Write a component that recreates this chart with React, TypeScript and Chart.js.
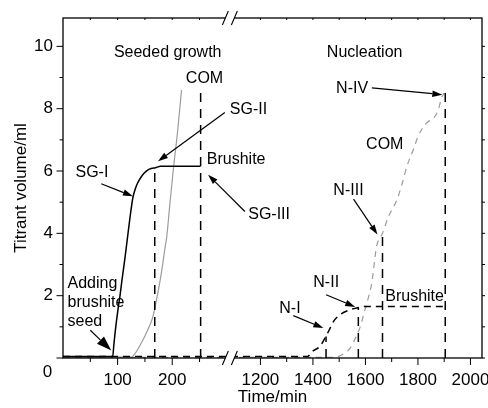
import React, { useEffect, useRef } from 'react';
import { Chart, registerables } from 'chart.js';

Chart.register(...registerables);

// ---- Data (time in minutes, titrant volume in ml) ----
const sgBrushiteTime = [0, 91, 93, 95, 98, 101, 104, 108, 113, 118, 123, 128, 131, 135, 140, 146, 152, 158, 164, 168, 172, 178, 252];
const sgBrushiteVol = [0.05, 0.05, 0.4, 0.75, 1.2, 1.6, 1.95, 2.5, 3.15, 3.85, 4.55, 5.15, 5.35, 5.55, 5.72, 5.88, 5.99, 6.06, 6.09, 6.1, 6.12, 6.15, 6.15];

const sgComTime = [0, 125, 132, 140, 147, 153, 159, 165, 171, 177, 182, 186, 190, 196, 202, 210, 217];
const sgComVol = [0.03, 0.03, 0.15, 0.37, 0.6, 0.82, 1.05, 1.35, 1.85, 2.4, 2.95, 3.45, 3.9, 5.0, 6.05, 7.3, 8.6];

const nBrushiteTime = [0, 1380, 1396, 1427, 1450, 1465, 1478, 1503, 1542, 1573, 1590, 1904];
const nBrushiteVol = [0.05, 0.05, 0.2, 0.38, 0.7, 0.95, 1.17, 1.39, 1.55, 1.62, 1.65, 1.65];

const nComTime = [0, 1480, 1500, 1520, 1542, 1560, 1580, 1595, 1610, 1624, 1643, 1663, 1688, 1720, 1740, 1758, 1783, 1800, 1828, 1845, 1862, 1878, 1890, 1900];
const nComVol = [0.02, 0.02, 0.06, 0.15, 0.32, 0.6, 1.0, 1.45, 1.9, 2.4, 3.6, 3.96, 4.54, 5.08, 5.6, 6.15, 6.7, 7.1, 7.5, 7.62, 7.72, 7.97, 8.35, 8.5];

// vertical dashed marker lines (SG-II, COM end, N-I, N-II, N-III, N-IV)
const markerTimes = [168, 252, 1450, 1573, 1665, 1904];
const markerTops = [6.1, 8.5, 0.69, 1.62, 3.96, 8.7];

const xMajorTicks = [100, 200, 1200, 1400, 1600, 1800, 2000];
const xMinorTicks = [50, 150, 250, 1300, 1500, 1700, 1900];
const yLabelTicks = [2, 4, 6, 8, 10];
const yMajorTicks = [0, 2, 4, 6, 8, 10];
const yMinorTicks = [1, 3, 5, 7, 9];

// broken axis: 0..BREAK_LEFT then BREAK_RIGHT..X_END compressed
const BREAK_LEFT = 305.5;
const BREAK_RIGHT = 1083.6;
const RIGHT_SCALE = 0.4807;
const X_END = 2044;
const Y_MAX = 10.91;

const toU = (t: number) => (t <= BREAK_LEFT ? t : BREAK_LEFT + (t - BREAK_RIGHT) * RIGHT_SCALE);

// annotations in (virtual x, volume) units
const texts = [
  { text: 'Seeded growth', u: 191.7, v: 9.8, align: 'center' },
  { text: 'Nucleation', u: 552.3, v: 9.8, align: 'center' },
  { text: 'COM', u: 259.1, v: 8.96, align: 'center' },
  { text: 'SG-II', u: 305.5, v: 7.97, align: 'left' },
  { text: 'Brushite', u: 263.3, v: 6.36, align: 'left' },
  { text: 'SG-III', u: 339.1, v: 4.6, align: 'left' },
  { text: 'SG-I', u: 22.9, v: 5.95, align: 'left' },
  { text: 'Adding', u: 8.3, v: 2.38, align: 'left' },
  { text: 'brushite', u: 8.3, v: 1.77, align: 'left' },
  { text: 'seed', u: 8.3, v: 1.16, align: 'left' },
  { text: 'N-IV', u: 500, v: 8.63, align: 'left' },
  { text: 'COM', u: 555, v: 6.85, align: 'left' },
  { text: 'N-III', u: 495, v: 5.38, align: 'left' },
  { text: 'N-II', u: 458.3, v: 2.41, align: 'left' },
  { text: 'N-I', u: 396, v: 1.6, align: 'left' },
  { text: 'Brushite', u: 590, v: 1.98, align: 'left' },
];

const arrows = [
  { from: [296.3, 7.88], to: [174, 6.31], head: 10, w: 3.2 },
  { from: [333, 4.7], to: [265.7, 5.88], head: 10, w: 3.2 },
  { from: [70, 5.59], to: [128, 5.19], head: 10, w: 3.2 },
  { from: [50, 0.89], to: [88.4, 0.24], head: 15, w: 5 },
  { from: [565.5, 8.67], to: [694.5, 8.45], head: 10, w: 3.2 },
  { from: [532, 5.1], to: [575.8, 3.96], head: 10, w: 3.2 },
  { from: [481.7, 2.03], to: [535, 1.64], head: 10, w: 3.2 },
  { from: [421.7, 1.36], to: [476.7, 0.96], head: 10, w: 3.2 },
];

const FAMILY = '"Liberation Sans", Arial, Helvetica, sans-serif';
const FONT = '16px ' + FAMILY;

const pts = (ts: number[], vs: number[]) => ts.map((t, i) => ({ x: toU(t), y: vs[i] }));

const decor = {
  id: 'decor',
  afterDraw(chart: any) {
    const { ctx, chartArea: a, scales } = chart;
    const xs = scales.x;
    const ys = scales.y;
    const X = (u: number) => xs.getPixelForValue(u);
    const Y = (v: number) => ys.getPixelForValue(v);
    ctx.save();
    ctx.strokeStyle = '#000';
    ctx.fillStyle = '#000';
    ctx.lineWidth = 1.3;
    ctx.setLineDash([]);
    // frame
    ctx.strokeRect(a.left, a.top, a.right - a.left, a.bottom - a.top);
    ctx.lineWidth = 1;
    ctx.beginPath();
    yMajorTicks.forEach((v) => {
      const py = Y(v);
      ctx.moveTo(a.left - 6.5, py); ctx.lineTo(a.left, py);
      ctx.moveTo(a.right, py); ctx.lineTo(a.right + 3, py);
    });
    yMinorTicks.forEach((v) => {
      const py = Y(v);
      ctx.moveTo(a.left - 3.5, py); ctx.lineTo(a.left, py);
      ctx.moveTo(a.right, py); ctx.lineTo(a.right + 3, py);
    });
    xMajorTicks.forEach((t) => {
      const px = X(toU(t));
      ctx.moveTo(px, a.bottom); ctx.lineTo(px, a.bottom + 7);
      ctx.moveTo(px, a.top); ctx.lineTo(px, a.top + 2);
    });
    xMinorTicks.forEach((t) => {
      const px = X(toU(t));
      ctx.moveTo(px, a.bottom); ctx.lineTo(px, a.bottom + 4);
      ctx.moveTo(px, a.top); ctx.lineTo(px, a.top + 2);
    });
    ctx.stroke();
    // axis break marks
    const bx = X(BREAK_LEFT);
    [a.top, a.bottom].forEach((yy: number) => {
      ctx.fillStyle = '#fff';
      ctx.beginPath();
      ctx.moveTo(bx - 7.5, yy + 7); ctx.lineTo(bx - 1.5, yy - 7);
      ctx.lineTo(bx + 7.5, yy - 7); ctx.lineTo(bx + 1.5, yy + 7);
      ctx.closePath();
      ctx.fill();
      ctx.strokeStyle = '#000';
      ctx.lineWidth = 1.1;
      ctx.beginPath();
      ctx.moveTo(bx - 7.5, yy + 7); ctx.lineTo(bx - 1.5, yy - 7);
      ctx.moveTo(bx + 1.5, yy + 7); ctx.lineTo(bx + 7.5, yy - 7);
      ctx.stroke();
    });
    // arrows
    ctx.fillStyle = '#000';
    ctx.strokeStyle = '#000';
    ctx.lineWidth = 1.2;
    arrows.forEach((ar) => {
      const x0 = X(ar.from[0]), y0 = Y(ar.from[1]);
      const x1 = X(ar.to[0]), y1 = Y(ar.to[1]);
      const ang = Math.atan2(y1 - y0, x1 - x0);
      const bxp = x1 - ar.head * Math.cos(ang);
      const byp = y1 - ar.head * Math.sin(ang);
      ctx.beginPath();
      ctx.moveTo(x0, y0); ctx.lineTo(bxp, byp);
      ctx.stroke();
      ctx.beginPath();
      ctx.moveTo(x1, y1);
      ctx.lineTo(bxp + ar.w * Math.sin(ang), byp - ar.w * Math.cos(ang));
      ctx.lineTo(bxp - ar.w * Math.sin(ang), byp + ar.w * Math.cos(ang));
      ctx.closePath();
      ctx.fill();
    });
    // texts
    ctx.font = FONT;
    ctx.textBaseline = 'middle';
    texts.forEach((tx) => {
      ctx.textAlign = tx.align as CanvasTextAlign;
      ctx.fillText(tx.text, X(tx.u), Y(tx.v));
    });
    // origin label
    ctx.font = '17px ' + FAMILY;
    ctx.textAlign = 'center';
    ctx.fillText('0', a.left - 15.5, a.bottom + 14);
    ctx.restore();
  },
};

export default function App() {
  const ref = useRef<HTMLCanvasElement>(null);
  useEffect(() => {
    document.body.style.margin = '0';
    document.body.style.overflow = 'hidden';
    const canvas = ref.current!;
    const datasets: any[] = [
      {
        data: pts(sgBrushiteTime, sgBrushiteVol),
        borderColor: '#000', borderWidth: 1.5, cubicInterpolationMode: 'monotone',
      },
      {
        data: pts(nBrushiteTime, nBrushiteVol),
        borderColor: '#000', borderWidth: 1.5, borderDash: [7, 5], cubicInterpolationMode: 'monotone',
      },
      ...markerTimes.map((t, i) => ({
        data: [{ x: toU(t), y: 0 }, { x: toU(t), y: markerTops[i] }],
        borderColor: '#000', borderWidth: 1.5, borderDash: [9, 7], tension: 0,
      })),
      {
        data: pts(sgComTime, sgComVol),
        borderColor: '#9c9c9c', borderWidth: 1.2, cubicInterpolationMode: 'monotone',
      },
      {
        data: pts(nComTime, nComVol),
        borderColor: '#9c9c9c', borderWidth: 1.2, borderDash: [6, 5], cubicInterpolationMode: 'monotone',
      },
    ];
    const tickFont = { family: FAMILY, size: 17 };
    const chart = new Chart(canvas, {
      type: 'line',
      data: { datasets },
      plugins: [decor],
      options: {
        animation: false,
        responsive: false,
        devicePixelRatio: 1,
        events: [],
        layout: { padding: { left: 0, right: 6, top: 18, bottom: 0 } },
        elements: { point: { radius: 0 } },
        plugins: { legend: { display: false }, tooltip: { enabled: false } },
        scales: {
          x: {
            type: 'linear',
            min: 0,
            max: toU(X_END),
            grid: { display: false, drawTicks: false },
            border: { display: false },
            afterFit: (s: any) => { s.height = 50; s.paddingLeft = 0; s.paddingRight = 0; },
            afterBuildTicks: (s: any) => { s.ticks = xMajorTicks.map((t) => ({ value: toU(t) })); },
            ticks: {
              autoSkip: false, maxRotation: 0, padding: 12, color: '#000', font: tickFont,
              callback: (val: any) => {
                const i = xMajorTicks.findIndex((t) => Math.abs(toU(t) - val) < 0.01);
                return i >= 0 ? String(xMajorTicks[i]) : '';
              },
            },
            title: {
              display: true, text: 'Time/min', color: '#000', padding: { top: 0, bottom: 0 },
              font: { family: FAMILY, size: 17 },
            },
          },
          y: {
            type: 'linear',
            min: 0,
            max: Y_MAX,
            grid: { display: false, drawTicks: false },
            border: { display: false },
            afterFit: (s: any) => { s.width = 63; s.paddingTop = 0; s.paddingBottom = 0; },
            afterBuildTicks: (s: any) => { s.ticks = yLabelTicks.map((v) => ({ value: v })); },
            ticks: { padding: 10, color: '#000', font: tickFont },
            title: {
              display: true, text: 'Titrant volume/ml', color: '#000', padding: { top: 11, bottom: 0 },
              font: { family: FAMILY, size: 17 },
            },
          },
        },
      },
    });
    return () => chart.destroy();
  }, []);
  return (
    <div style={{ width: 488, height: 408 }}>
      <canvas ref={ref} width={488} height={408} style={{ display: 'block' }} />
    </div>
  );
}
